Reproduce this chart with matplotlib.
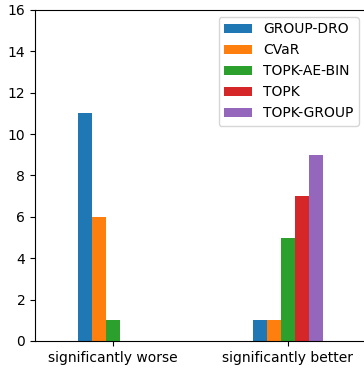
import numpy as np
import matplotlib
matplotlib.use('Agg')
import matplotlib.pyplot as plt

categories = ['significantly worse', 'significantly better']
methods = ['GROUP-DRO', 'CVaR', 'TOPK-AE-BIN', 'TOPK', 'TOPK-GROUP']
counts = {
    'GROUP-DRO':   [11, 1],
    'CVaR':        [6, 1],
    'TOPK-AE-BIN': [1, 5],
    'TOPK':        [0, 7],
    'TOPK-GROUP':  [0, 9],
}

fig = plt.figure(figsize=(3.64, 3.68), dpi=100)
ax = fig.add_axes([35 / 364, 27 / 368, 331 / 364, 331 / 368])

x = np.arange(len(categories))
width = 0.08
for i, m in enumerate(methods):
    ax.bar(x + (i - 2) * width, counts[m], width, label=m)

ax.set_xticks(x)
ax.set_xticklabels(categories)
ax.set_xlim(-0.446, 1.446)
ax.set_ylim(0, 16)
ax.set_yticks(range(0, 17, 2))
ax.legend(loc='upper right')

fig.savefig('out.png', dpi=100)
